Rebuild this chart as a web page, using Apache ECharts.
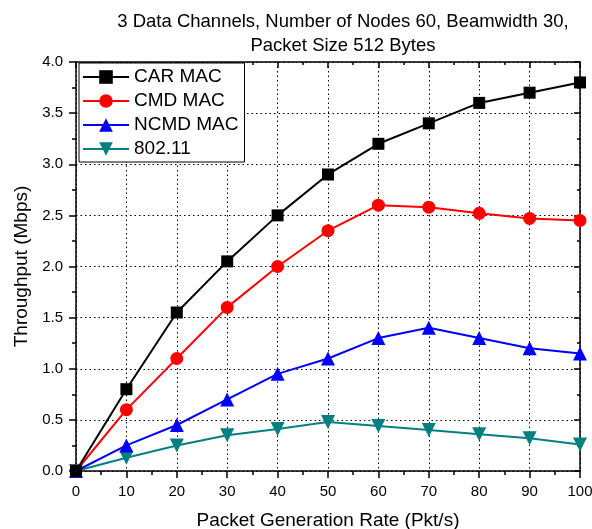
<!DOCTYPE html>
<html>
<head>
<meta charset="utf-8">
<script src="https://cdn.jsdelivr.net/npm/echarts@6/dist/echarts.min.js"></script>
<style>html,body{margin:0;padding:0;background:#fff}#c{width:592px;height:529px}</style>
</head>
<body>
<div id="c"></div>
<script>
var xValues = [0, 10, 20, 30, 40, 50, 60, 70, 80, 90, 100];
var carMac = [0, 0.8, 1.55, 2.05, 2.5, 2.9, 3.2, 3.4, 3.6, 3.7, 3.8];
var cmdMac = [0, 0.6, 1.1, 1.6, 2.0, 2.35, 2.6, 2.58, 2.52, 2.47, 2.45];
var ncmdMac = [0, 0.25, 0.45, 0.7, 0.95, 1.1, 1.3, 1.4, 1.3, 1.2, 1.15];
var dot11 = [0, 0.13, 0.25, 0.35, 0.41, 0.48, 0.44, 0.40, 0.36, 0.32, 0.26];
var seriesNames = ['CAR MAC', 'CMD MAC', 'NCMD MAC', '802.11'];
var titleText = '3 Data Channels, Number of Nodes 60, Beamwidth 30,\nPacket Size 512 Bytes';
var xName = 'Packet Generation Rate (Pkt/s)';
var yName = 'Throughput (Mbps)';

function pairs(arr) { return xValues.map(function (x, i) { return [x, arr[i]]; }); }

var font = 'Liberation Sans, Arial, Helvetica, sans-serif';
var chart = echarts.init(document.getElementById('c'));
var axisLineStyle = { color: '#000', width: 1.5 };
chart.setOption({
  animation: false,
  backgroundColor: '#fff',
  textStyle: { fontFamily: font },
  title: {
    text: titleText,
    left: 338, top: 5, textAlign: 'center',
    textStyle: { fontFamily: font, fontSize: 18.5, fontWeight: 'normal', color: '#000', lineHeight: 24 }
  },
  grid: { left: 76, right: 12, top: 62, bottom: 58, containLabel: false, outerBoundsMode: 'none' },
  legend: {
    orient: 'vertical', left: 79, top: 63,
    backgroundColor: '#fff',
    borderColor: '#000', borderWidth: 1, borderRadius: 0,
    padding: [4, 6, 3, 3],
    itemGap: 4, itemWidth: 46, itemHeight: 17,
    textStyle: { fontFamily: font, fontSize: 19, color: '#000', lineHeight: 20 },
    data: seriesNames
  },
  xAxis: [{
    type: 'value', min: 0, max: 100, interval: 10,
    name: xName, nameLocation: 'middle', nameGap: 40,
    nameTextStyle: { fontFamily: font, fontSize: 19, color: '#000' },
    axisLine: { onZero: false, lineStyle: axisLineStyle },
    axisTick: { inside: false, length: 7, lineStyle: { color: '#000', width: 1.5 } },
    minorTick: { show: true, splitNumber: 2, length: 4, lineStyle: { color: '#000', width: 1.5 } },
    axisLabel: { fontFamily: font, fontSize: 15, color: '#000', margin: 13 },
    splitLine: { show: true, lineStyle: { color: '#000', type: [1.5, 3], width: 1 } }
  }, {
    type: 'value', min: 0, max: 100, interval: 10, position: 'top',
    axisLine: { onZero: false, lineStyle: axisLineStyle },
    axisTick: { inside: true, length: 6, lineStyle: { color: '#000', width: 1.5 } },
    minorTick: { show: true, splitNumber: 2, length: 3, lineStyle: { color: '#000', width: 1.5 } },
    axisLabel: { show: false },
    splitLine: { show: false }
  }],
  yAxis: [{
    type: 'value', min: 0, max: 4, interval: 0.5,
    name: yName, nameLocation: 'middle', nameGap: 44,
    nameTextStyle: { fontFamily: font, fontSize: 19, color: '#000' },
    axisLine: { onZero: false, lineStyle: axisLineStyle },
    axisTick: { inside: false, length: 7, lineStyle: { color: '#000', width: 1.5 } },
    minorTick: { show: true, splitNumber: 2, length: 4, lineStyle: { color: '#000', width: 1.5 } },
    axisLabel: { fontFamily: font, fontSize: 15, color: '#000', margin: 13, formatter: function (v) { return v.toFixed(1); } },
    splitLine: { show: true, lineStyle: { color: '#000', type: [1.5, 3], width: 1 } }
  }, {
    type: 'value', min: 0, max: 4, interval: 0.5, position: 'right',
    axisLine: { onZero: false, lineStyle: axisLineStyle },
    axisTick: { inside: true, length: 6, lineStyle: { color: '#000', width: 1.5 } },
    minorTick: { show: true, splitNumber: 2, length: 3, lineStyle: { color: '#000', width: 1.5 } },
    axisLabel: { show: false },
    splitLine: { show: false }
  }],
  series: [
    { name: seriesNames[0], type: 'line', data: pairs(carMac), symbol: 'rect', symbolSize: 12,
      itemStyle: { color: '#000' }, lineStyle: { color: '#000', width: 2 }, z: 5 },
    { name: seriesNames[1], type: 'line', data: pairs(cmdMac), symbol: 'circle', symbolSize: 13,
      itemStyle: { color: '#ff0000' }, lineStyle: { color: '#ff0000', width: 2 }, z: 4 },
    { name: seriesNames[2], type: 'line', data: pairs(ncmdMac), symbol: 'triangle', symbolSize: 14,
      itemStyle: { color: '#0000ff' }, lineStyle: { color: '#0000ff', width: 2 }, z: 3 },
    { name: seriesNames[3], type: 'line', data: pairs(dot11), symbol: 'triangle', symbolRotate: 180, symbolSize: 14,
      itemStyle: { color: '#008080' }, lineStyle: { color: '#008080', width: 2 }, z: 2 }
  ]
});
</script>
</body>
</html>
